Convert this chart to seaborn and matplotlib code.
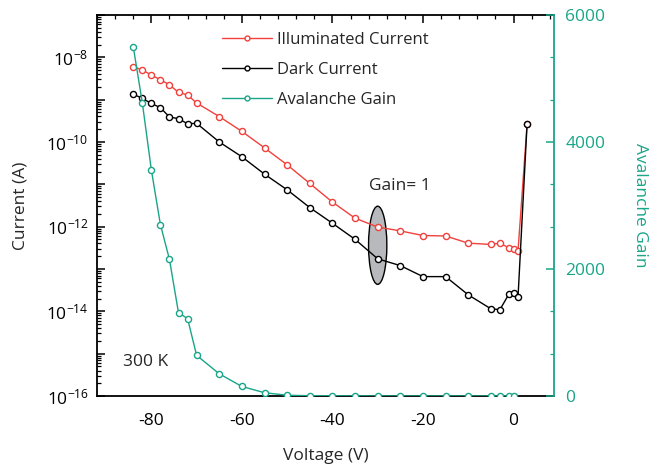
"""I-V curves with avalanche gain on a twin axis."""

import matplotlib

matplotlib.use("Agg")
import matplotlib.pyplot as plt
import numpy as np
import pandas as pd
import seaborn as sns
from matplotlib.patches import Ellipse
from matplotlib.ticker import LogLocator, MultipleLocator, NullFormatter

# voltage points (V)
voltage = [-84, -82, -80, -78, -76, -74, -72, -70, -65, -60, -55, -50, -45,
           -40, -35, -30, -25, -20, -15, -10, -5, -3, -1, 0, 1, 3]
# log10 of current (A)
log_illuminated = [-8.22, -8.30, -8.42, -8.53, -8.65, -8.83, -8.89, -9.08,
                   -9.40, -9.75, -10.14, -10.54, -10.98, -11.42, -11.80,
                   -12.01, -12.10, -12.21, -12.22, -12.39, -12.42, -12.39,
                   -12.50, -12.53, -12.57, -9.58]
log_dark = [-8.87, -8.97, -9.09, -9.19, -9.41, -9.45, -9.57, -9.56, -10.00,
            -10.35, -10.76, -11.13, -11.55, -11.92, -12.30, -12.76, -12.92,
            -13.18, -13.18, -13.61, -13.94, -13.96, -13.59, -13.57, -13.66,
            -9.58]

gain_voltage = [-84, -82, -80, -78, -76, -74, -72, -70, -65, -60, -55, -50,
                -45, -40, -35, -30, -25, -20, -15, -10, -5, -3, -1, 0]
gain = [5500, 4620, 3560, 2700, 2150, 1310, 1220, 640, 350, 150, 52, 12,
        5, 3, 2, 1, 1, 1, 1, 1, 1, 1, 1, 1]

RED = "#f0413c"
GREEN = "#1aa589"

sns.set_style("white")
plt.rcParams["font.family"] = ["Open Sans", "DejaVu Sans"]
plt.rcParams["mathtext.fontset"] = "custom"
plt.rcParams["mathtext.rm"] = "Open Sans"
plt.rcParams["mathtext.it"] = "Open Sans"
plt.rcParams["mathtext.default"] = "regular"
plt.rcParams["axes.unicode_minus"] = False

df = pd.DataFrame({
    "Voltage": voltage,
    "Illuminated": np.power(10.0, log_illuminated),
    "Dark": np.power(10.0, log_dark),
})
df_gain = pd.DataFrame({"Voltage": gain_voltage, "Gain": gain})

fig = plt.figure(figsize=(6.49, 4.67), dpi=100)
ax = fig.add_axes([0.1495, 0.152, 0.7045, 0.816])
ax2 = ax.twinx()

line_kw = dict(marker="o", markersize=4.4, markerfacecolor="white",
               markeredgewidth=1.0, linewidth=1.0, sort=False, estimator=None)
sns.lineplot(data=df, x="Voltage", y="Illuminated", color=RED,
             markeredgecolor=RED, ax=ax, label="Illuminated Current", **line_kw)
sns.lineplot(data=df, x="Voltage", y="Dark", color="black",
             markeredgecolor="black", ax=ax, label="Dark Current", **line_kw)
sns.lineplot(data=df_gain, x="Voltage", y="Gain", color=GREEN,
             markeredgecolor=GREEN, ax=ax2, label="Avalanche Gain", **line_kw)

ax.set_yscale("log")
ax.set_xlim(-92, 9)
ax.set_ylim(1e-16, 1e-7)
ax2.set_ylim(0, 6000)

ax.xaxis.set_major_locator(MultipleLocator(20))
ax.xaxis.set_minor_locator(MultipleLocator(4))
ax.yaxis.set_minor_locator(LogLocator(base=10, subs=np.arange(2, 10), numticks=20))
ax.yaxis.set_minor_formatter(NullFormatter())
ax.set_yticks([10.0 ** k for k in range(-16, -6)])
ax.set_yticklabels([f"$10^{{{k}}}$" if k % 2 == 0 and k <= -8 else ""
                    for k in range(-16, -6)])
ax2.yaxis.set_major_locator(MultipleLocator(2000))
ax2.yaxis.set_minor_locator(MultipleLocator(2000 / 3))

ax.tick_params(axis="both", which="both", direction="in", top=True,
               right=False, labelsize=12.5, colors="black")
ax.tick_params(axis="x", pad=12)
ax.tick_params(axis="y", pad=6)
ax.tick_params(which="major", length=6, width=1.1)
ax.tick_params(which="minor", length=3, width=0.9)
ax2.tick_params(axis="y", which="both", direction="in", colors=GREEN,
                labelsize=12.5, pad=8)
ax2.tick_params(which="major", length=6, width=1.1)
ax2.tick_params(which="minor", length=3, width=0.9)

for name in ["left", "bottom", "top"]:
    ax.spines[name].set_linewidth(1.3)
    ax.spines[name].set_color("black")
ax.spines["right"].set_visible(False)
for name in ["left", "bottom", "top"]:
    ax2.spines[name].set_visible(False)
ax2.spines["right"].set_color(GREEN)
ax2.spines["right"].set_linewidth(1.3)

ax.set_xlabel("Voltage (V)", fontsize=12.5, labelpad=14)
ax.set_ylabel("Current (A)", fontsize=12.5, labelpad=13)
ax2.set_ylabel("Avalanche Gain", fontsize=12.5, color=GREEN, rotation=-90,
               labelpad=31)

# legend combining both axes
h1, l1 = ax.get_legend_handles_labels()
h2, l2 = ax2.get_legend_handles_labels()
ax2.get_legend().remove()
ax.get_legend().remove()
ax2.legend(h1 + h2, l1 + l2, loc="upper left", bbox_to_anchor=(0.24, 0.995),
           frameon=False, fontsize=12, handlelength=3.0, handletextpad=0.3,
           labelspacing=0.85, markerscale=0.8)

# gain = 1 marker ellipse around V = -30
x0, x1 = ax.get_xlim()
fx = (-30 - x0) / (x1 - x0)
fy = (-12.44 + 16) / 9
ax.add_patch(Ellipse((fx, fy), 0.040, 0.205, transform=ax.transAxes,
                     facecolor="#b8b9bc", edgecolor="black", linewidth=1.0,
                     zorder=1.5))
ax.text(-25, 10 ** -11.04, "Gain= 1", fontsize=12.5, ha="center", va="center")
ax.text(0.056, 0.089, "300 K", fontsize=12.5, ha="left", va="center",
        transform=ax.transAxes)

fig.savefig("out.png", dpi=100)
plt.close(fig)
